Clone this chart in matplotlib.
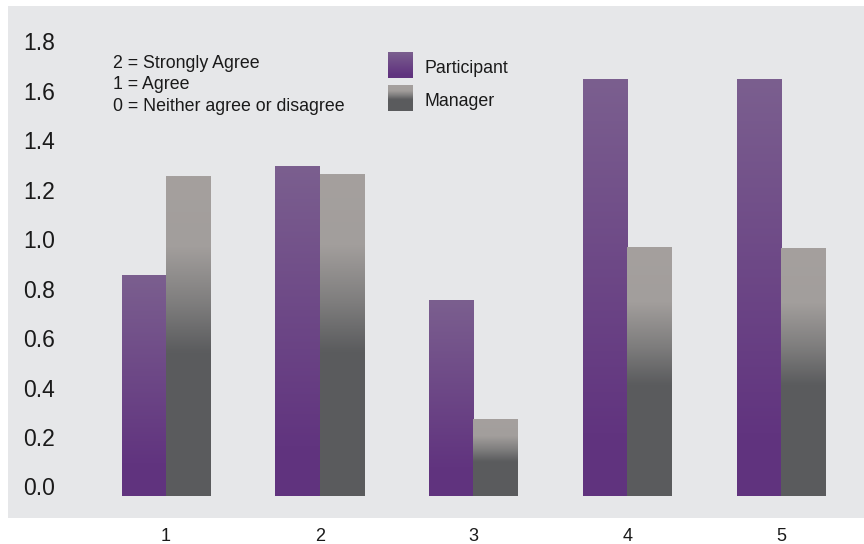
import numpy as np
import matplotlib
matplotlib.use("Agg")
import matplotlib.pyplot as plt
from matplotlib.colors import LinearSegmentedColormap
from matplotlib.transforms import blended_transform_factory, ScaledTranslation

plt.rcParams['font.family'] = ['Liberation Sans', 'DejaVu Sans']

questions = ['1', '2', '3', '4', '5']
participant = [0.89, 1.33, 0.79, 1.685, 1.685]
manager = [1.29, 1.30, 0.31, 1.005, 1.0]
y_ticks = [0.0, 0.2, 0.4, 0.6, 0.8, 1.0, 1.2, 1.4, 1.6, 1.8]
scale_notes = ['2 = Strongly Agree', '1 = Agree', '0 = Neither agree or disagree']
series_names = ['Participant', 'Manager']

BG = '#e6e7e9'
TEXT = '#1a1a1a'

purple_cmap = LinearSegmentedColormap.from_list(
    'purple', [(0.0, '#7b5f8f'), (0.85, '#61347f'), (1.0, '#60337e')])
gray_cmap = LinearSegmentedColormap.from_list(
    'gray', [(0.0, '#a5a09e'), (0.22, '#a29e9c'), (0.40, '#7e7d7d'),
             (0.55, '#5b5c5e'), (1.0, '#5a5b5d')])

grad = np.linspace(0, 1, 256).reshape(-1, 1)


def gradient_fill(ax, bars, cmap):
    for rect in bars:
        x0, y0 = rect.get_x(), rect.get_y()
        w, h = rect.get_width(), rect.get_height()
        ax.imshow(grad, extent=[x0, x0 + w, y0, y0 + h], origin='upper',
                  aspect='auto', cmap=cmap, zorder=2, interpolation='bilinear')
        rect.set_visible(False)


fig = plt.figure(figsize=(8.64, 5.44), dpi=100)
ax = fig.add_axes([8 / 864, 26 / 544, 856 / 864, 512 / 544])
ax.set_facecolor(BG)

x = np.arange(len(questions))
width = 0.289
p_bars = ax.bar(x - width / 2, participant, width)
m_bars = ax.bar(x + width / 2, manager, width)
gradient_fill(ax, p_bars, purple_cmap)
gradient_fill(ax, m_bars, gray_cmap)

for s in ax.spines.values():
    s.set_visible(False)
ax.set_yticks([])
ax.set_xticks(x)
ax.set_xticklabels(questions, fontsize=13, color=TEXT)
ax.tick_params(axis='x', length=0, pad=7)

# value labels sit slightly above their gridline positions
ytrans = blended_transform_factory(ax.transAxes, ax.transData) + \
    ScaledTranslation(0, 0.07, fig.dpi_scale_trans)
for v in y_ticks:
    ax.text(0.0175, v, f'{v:.1f}', transform=ytrans, fontsize=16.5,
            color=TEXT, ha='left', va='center')

for i, note in enumerate(scale_notes):
    ax.text(0.1227, 0.8886 - i * 0.042, note, transform=ax.transAxes,
            fontsize=12.8, color=TEXT, ha='left', va='center')

# legend swatches with the same gradients as the bars
for i, (name, cmap) in enumerate(zip(series_names, [purple_cmap, gray_cmap])):
    y_top = 0.908 - i * 0.0645
    ax.imshow(grad, extent=[0.4439, 0.4731, y_top - 0.049, y_top],
              transform=ax.transAxes, origin='upper', aspect='auto',
              cmap=cmap, zorder=3, interpolation='bilinear')
    ax.text(0.487, y_top - 0.031, name, transform=ax.transAxes,
            fontsize=12.8, color=TEXT, ha='left', va='center')

ax.set_xlim(-1.0276, 4.54)
ax.set_ylim(-0.0889, 1.98)

fig.savefig('out.png', dpi=100, facecolor='white')
